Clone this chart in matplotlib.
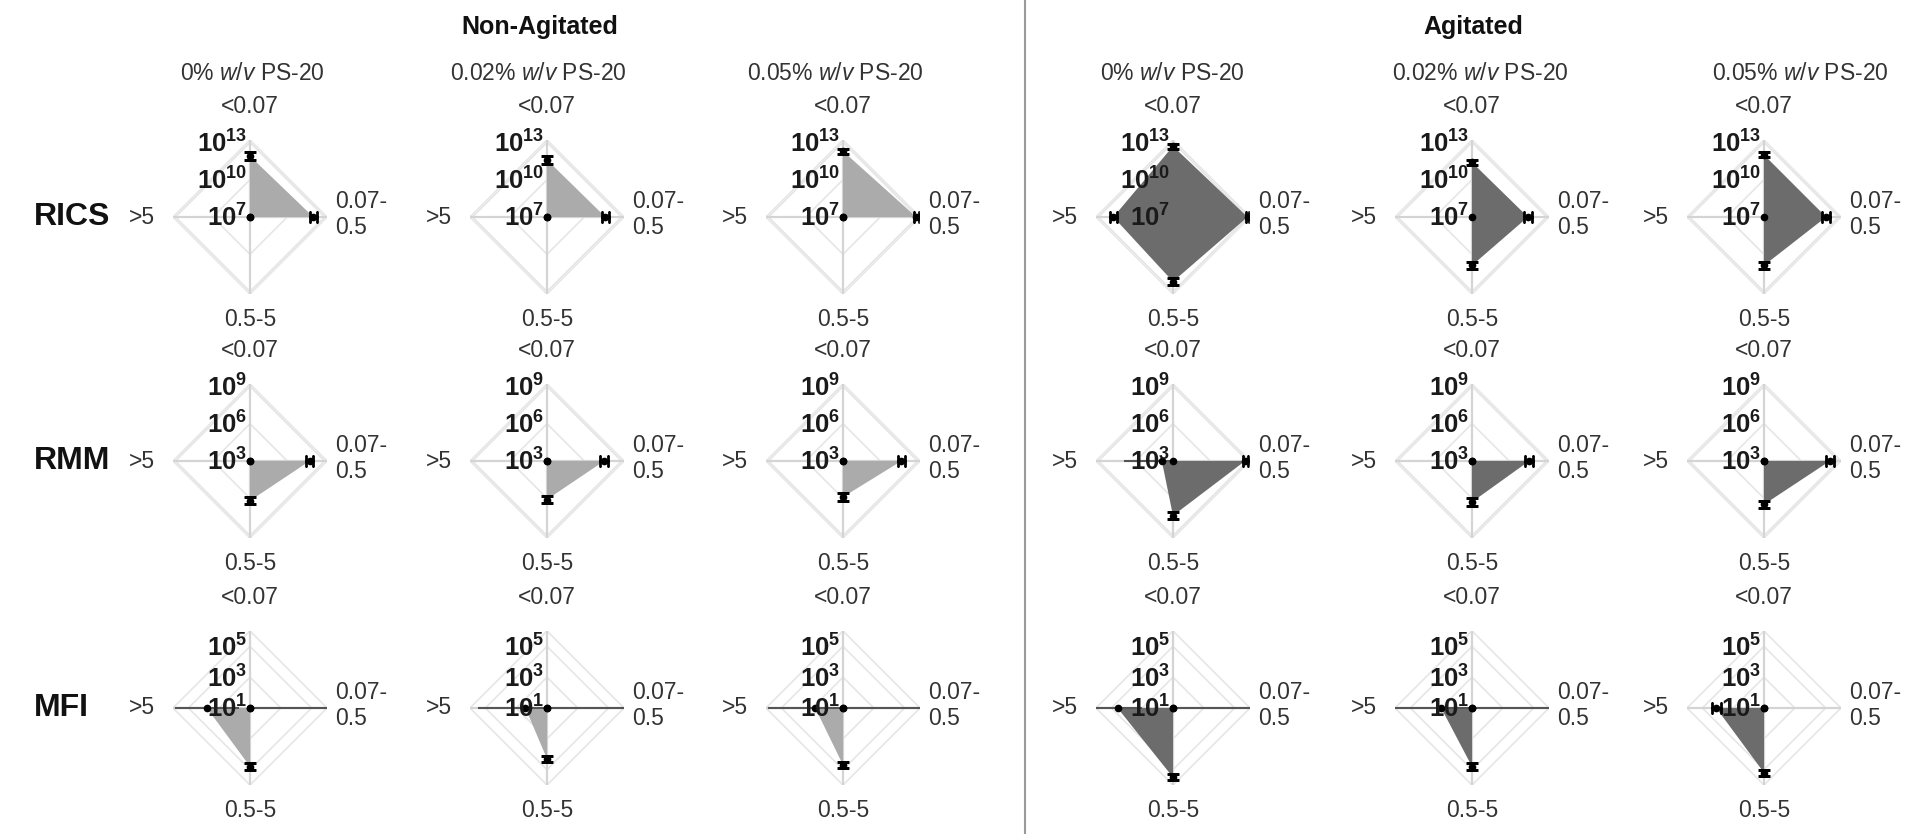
import numpy as np
import matplotlib
matplotlib.use('Agg')
import matplotlib.pyplot as plt
from matplotlib.lines import Line2D

plt.rcParams['font.family'] = ['Liberation Sans', 'DejaVu Sans']
plt.rcParams['mathtext.fontset'] = 'custom'
plt.rcParams['mathtext.rm'] = 'Liberation Sans'
plt.rcParams['mathtext.it'] = 'Liberation Sans:italic'
plt.rcParams['mathtext.bf'] = 'Liberation Sans:bold'

# ---------------- data ----------------
categories = ['<0.07', '0.07-\n0.5', '0.5-5', '>5']       # size bins (um)
groups = ['Non-Agitated', 'Agitated']
conditions = ['0%', '0.02%', '0.05%']                     # PS-20 (w/v)
methods = ['RICS', 'RMM', 'MFI']

# log10 particle concentration, one row per panel:
# non-agitated 0 / 0.02 / 0.05 %, agitated 0 / 0.02 / 0.05 %
# columns follow categories: <0.07, 0.07-0.5, 0.5-5, >5
rics_log = [[11.9, 12.1, 7.0, 7.0],
            [11.6, 11.7, 7.0, 7.0],
            [12.3, 12.9, 7.0, 7.0],
            [12.7, 13.0, 12.2, 11.8],
            [11.4, 11.5, 10.9, 7.0],
            [12.0, 12.0, 10.9, 7.0]]
rics_err = [[0.3, 0.3, 0.0, 0.0],
            [0.3, 0.3, 0.0, 0.0],
            [0.2, 0.2, 0.0, 0.0],
            [0.2, 0.1, 0.3, 0.3],
            [0.2, 0.3, 0.3, 0.0],
            [0.2, 0.3, 0.3, 0.0]]

rmm_log = [[3.0, 7.8, 6.2, 3.0],
           [3.0, 7.6, 6.1, 3.0],
           [3.0, 7.7, 5.9, 3.0],
           [3.0, 8.8, 7.4, 3.9],
           [3.0, 7.6, 6.3, 3.0],
           [3.0, 8.3, 6.5, 3.0]]
rmm_err = [[0.0, 0.3, 0.3, 0.0],
           [0.0, 0.3, 0.3, 0.0],
           [0.0, 0.3, 0.3, 0.0],
           [0.0, 0.2, 0.3, 3.0],
           [0.0, 0.3, 0.3, 0.0],
           [0.0, 0.3, 0.3, 0.0]]

mfi_log = [[1.0, 1.0, 4.8, 3.8],
           [1.0, 1.0, 4.3, 2.4],
           [1.0, 1.0, 4.7, 2.8],
           [1.0, 1.0, 5.5, 4.6],
           [1.0, 1.0, 4.8, 3.0],
           [1.0, 1.0, 5.2, 4.1]]
mfi_err = [[0.0, 5.0, 0.2, 2.0],
           [0.0, 5.0, 0.2, 3.0],
           [0.0, 5.0, 0.2, 3.0],
           [0.0, 5.0, 0.2, 1.5],
           [0.0, 5.0, 0.2, 3.0],
           [0.0, 0.0, 0.2, 0.3]]

rics_ticks = [7, 10, 13]
rmm_ticks = [3, 6, 9]
mfi_ticks = [1, 3, 5]

rics_lim = (7, 13.2)
rmm_lim = (3, 9.2)
mfi_lim = (1, 6.0)

# ---------------- layout ----------------
W, H = 1925, 834
col_x = [250, 547, 843, 1173, 1472, 1764]
row_y = [217, 461, 708]
head_x = [252, 538, 835, 1172, 1480, 1800]
R = 77
fill_colors = ['#ababab', '#6c6c6c']
txt_color = '#333333'
fs = 16.5

theta = np.array([np.pi / 2, 0.0, -np.pi / 2, np.pi])
th_closed = np.append(theta, theta[0])

fig = plt.figure(figsize=(W / 100, H / 100), dpi=100)

rows = [(rics_log, rics_err, rics_ticks, rics_lim),
        (rmm_log, rmm_err, rmm_ticks, rmm_lim),
        (mfi_log, mfi_err, mfi_ticks, mfi_lim)]


def draw_radar(ax, vals, errs, ticks, lim, color):
    lo_r, hi_r = 10.0 ** lim[0], 10.0 ** lim[1]

    # diamond grid and spokes
    for g in ticks[1:] + [lim[1]]:
        ax.plot(th_closed, [10.0 ** g] * 5, color='#e6e6e6', lw=1.2, zorder=1)
    for t in theta:
        ax.plot([t, t], [lo_r, hi_r], color='#d4d4d4', lw=1.6, zorder=1)

    v = np.append(vals, vals[0])
    ax.fill(th_closed, 10.0 ** v, color=color, lw=0, zorder=2)

    for k, t in enumerate(theta):
        e = errs[k]
        if e > 0:
            lo = max(vals[k] - e, lim[0])
            hi = min(vals[k] + e, lim[1])
            big = e >= 1
            ax.plot([t, t], [10.0 ** lo, 10.0 ** hi],
                    color='#555555' if big else 'k', lw=1.5 if big else 2, zorder=3)
            if not big:
                cap = '_' if k in (0, 2) else '|'
                for r in (lo, hi):
                    ax.plot(t, 10.0 ** r, marker=cap, ms=9, mew=2, color='k', zorder=4)
        ax.plot(t, 10.0 ** vals[k], 'o', color='k', ms=4.5, zorder=5)

    ax.set_rscale('log')
    ax.set_rlim(lo_r, hi_r)
    ax.grid(False)
    ax.set_xticks([])
    ax.set_yticks([])
    ax.spines['polar'].set_visible(False)
    ax.patch.set_alpha(0)

    # radial tick labels along the top spoke
    for tk in ticks:
        ax.annotate(r'$\mathbf{10^{%d}}$' % tk, xy=(np.pi / 2, 10.0 ** tk),
                    xytext=(-2, -1), textcoords='offset points',
                    ha='right', va='center', fontsize=18.5, color='#1a1a1a',
                    annotation_clip=False, zorder=6)

    # category labels
    ax.annotate(categories[0], xy=(np.pi / 2, hi_r), xytext=(0, 16),
                textcoords='offset points', ha='center', va='bottom',
                fontsize=fs, color=txt_color, annotation_clip=False)
    ax.annotate(categories[1], xy=(0, hi_r), xytext=(6, 2),
                textcoords='offset points', ha='left', va='center',
                fontsize=fs, color=txt_color, linespacing=1.15,
                annotation_clip=False)
    ax.annotate(categories[2], xy=(-np.pi / 2, hi_r), xytext=(0, -10),
                textcoords='offset points', ha='center', va='top',
                fontsize=fs, color=txt_color, annotation_clip=False)
    ax.annotate(categories[3], xy=(np.pi, hi_r), xytext=(-13, 0),
                textcoords='offset points', ha='right', va='center',
                fontsize=fs, color=txt_color, annotation_clip=False)


for i, (vals_all, errs_all, ticks, lim) in enumerate(rows):
    for j in range(6):
        ax = fig.add_axes([(col_x[j] - R) / W, 1 - (row_y[i] + R) / H,
                           2 * R / W, 2 * R / H], projection='polar')
        draw_radar(ax, vals_all[j], errs_all[j], ticks, lim,
                   fill_colors[j // 3])
    fig.text(34 / W, 1 - row_y[i] / H, methods[i], ha='left', va='center',
             fontsize=23, fontweight='bold', color='#111111')

for j in range(6):
    fig.text(head_x[j] / W, 1 - 74 / H,
             r'%s $\mathit{w/v}$ PS-20' % conditions[j % 3],
             ha='center', va='center', fontsize=fs, color=txt_color)

fig.text(540 / W, 1 - 27 / H, groups[0], ha='center', va='center',
         fontsize=18, fontweight='bold', color='#111111')
fig.text(1473 / W, 1 - 27 / H, groups[1], ha='center', va='center',
         fontsize=18, fontweight='bold', color='#111111')

fig.add_artist(Line2D([1025 / W, 1025 / W], [0, 1], color='#9a9a9a', lw=1.5))

fig.savefig('out.png', dpi=100)
